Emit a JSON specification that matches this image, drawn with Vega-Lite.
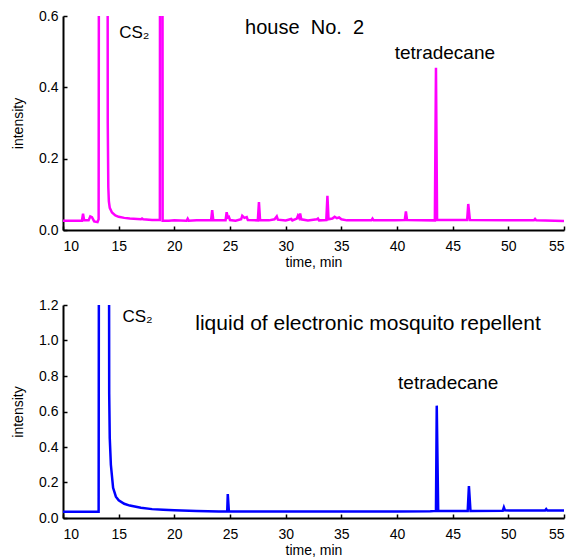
{
  "$schema": "https://vega.github.io/schema/vega-lite/v6.json",
  "padding": {"left": 11, "top": 9, "right": 5, "bottom": 0},
  "spacing": 29,
  "background": "white",
  "config": {
    "view": {"stroke": null},
    "font": "Liberation Sans",
    "axis": {
      "grid": false,
      "domainColor": "black",
      "domainWidth": 2,
      "tickColor": "black",
      "tickWidth": 1.5,
      "tickSize": -4,
      "labelFont": "Liberation Sans",
      "labelFontSize": 14,
      "labelColor": "black",
      "titleFont": "Liberation Sans",
      "titleFontSize": 14,
      "titleFontWeight": "normal",
      "titleColor": "black"
    },
    "axisX": {"labelPadding": 13, "titlePadding": 2},
    "axisY": {"labelPadding": 9, "titlePadding": 13}
  },
  "datasets": {
    "house": [
      {"t": 10.0, "v": 0.026}, {"t": 11.0, "v": 0.026}, {"t": 11.7, "v": 0.026}, {"t": 11.8, "v": 0.046},
      {"t": 11.9, "v": 0.027}, {"t": 12.3, "v": 0.027}, {"t": 12.45, "v": 0.038}, {"t": 12.6, "v": 0.036},
      {"t": 12.8, "v": 0.024}, {"t": 13.1, "v": 0.022}, {"t": 13.2, "v": 0.03}, {"t": 13.3, "v": 3},
      {"t": 13.95, "v": 3}, {"t": 14.02, "v": 0.3}, {"t": 14.07, "v": 0.12}, {"t": 14.12, "v": 0.08},
      {"t": 14.2, "v": 0.062}, {"t": 14.4, "v": 0.049}, {"t": 14.7, "v": 0.041}, {"t": 15.0, "v": 0.037},
      {"t": 15.5, "v": 0.034}, {"t": 16.0, "v": 0.032}, {"t": 17.0, "v": 0.03}, {"t": 17.1, "v": 0.032},
      {"t": 17.2, "v": 0.03}, {"t": 18.0, "v": 0.028}, {"t": 18.7, "v": 0.028}, {"t": 18.75, "v": 3},
      {"t": 18.9, "v": 3}, {"t": 18.95, "v": 0.026}, {"t": 19.5, "v": 0.026}, {"t": 20.0, "v": 0.027},
      {"t": 21.1, "v": 0.026}, {"t": 21.2, "v": 0.032}, {"t": 21.3, "v": 0.026}, {"t": 22.0, "v": 0.027},
      {"t": 23.3, "v": 0.027}, {"t": 23.4, "v": 0.056}, {"t": 23.5, "v": 0.027}, {"t": 24.6, "v": 0.027},
      {"t": 24.7, "v": 0.05}, {"t": 24.8, "v": 0.035}, {"t": 24.9, "v": 0.037}, {"t": 25.0, "v": 0.028},
      {"t": 25.5, "v": 0.026}, {"t": 26.0, "v": 0.03}, {"t": 26.1, "v": 0.04}, {"t": 26.3, "v": 0.034},
      {"t": 26.5, "v": 0.036}, {"t": 26.6, "v": 0.028}, {"t": 27.5, "v": 0.027}, {"t": 27.6, "v": 0.078},
      {"t": 27.7, "v": 0.028}, {"t": 28.5, "v": 0.027}, {"t": 29.0, "v": 0.03}, {"t": 29.2, "v": 0.038},
      {"t": 29.3, "v": 0.029}, {"t": 30.0, "v": 0.027}, {"t": 30.5, "v": 0.031}, {"t": 30.6, "v": 0.027},
      {"t": 31.0, "v": 0.032}, {"t": 31.1, "v": 0.04}, {"t": 31.2, "v": 0.034}, {"t": 31.3, "v": 0.046},
      {"t": 31.4, "v": 0.03}, {"t": 32.0, "v": 0.027}, {"t": 32.8, "v": 0.03}, {"t": 32.9, "v": 0.032},
      {"t": 33.0, "v": 0.027}, {"t": 33.65, "v": 0.028}, {"t": 33.75, "v": 0.096}, {"t": 33.85, "v": 0.03},
      {"t": 34.2, "v": 0.032}, {"t": 34.4, "v": 0.037}, {"t": 34.6, "v": 0.033}, {"t": 34.8, "v": 0.035},
      {"t": 35.0, "v": 0.03}, {"t": 35.5, "v": 0.027}, {"t": 37.7, "v": 0.027}, {"t": 37.8, "v": 0.032},
      {"t": 37.9, "v": 0.027}, {"t": 39.8, "v": 0.027}, {"t": 40.7, "v": 0.028}, {"t": 40.8, "v": 0.052},
      {"t": 40.9, "v": 0.028}, {"t": 43.4, "v": 0.027}, {"t": 43.5, "v": 0.455}, {"t": 43.6, "v": 0.028},
      {"t": 46.3, "v": 0.028}, {"t": 46.4, "v": 0.073}, {"t": 46.55, "v": 0.028}, {"t": 50.0, "v": 0.027},
      {"t": 52.3, "v": 0.027}, {"t": 52.4, "v": 0.031}, {"t": 52.5, "v": 0.027}, {"t": 55.0, "v": 0.025}
    ],
    "liquid": [
      {"t": 10.0, "v": 0.035}, {"t": 13.2, "v": 0.035}, {"t": 13.25, "v": 3}, {"t": 14.1, "v": 3},
      {"t": 14.15, "v": 0.7}, {"t": 14.2, "v": 0.45}, {"t": 14.3, "v": 0.3}, {"t": 14.5, "v": 0.17},
      {"t": 14.75, "v": 0.12}, {"t": 15.0, "v": 0.1}, {"t": 15.5, "v": 0.08}, {"t": 16.0, "v": 0.07},
      {"t": 17.0, "v": 0.058}, {"t": 18.0, "v": 0.05}, {"t": 19.0, "v": 0.046}, {"t": 20.0, "v": 0.043},
      {"t": 22.0, "v": 0.039}, {"t": 24.0, "v": 0.037}, {"t": 24.75, "v": 0.037}, {"t": 24.8, "v": 0.135},
      {"t": 24.9, "v": 0.038}, {"t": 27.0, "v": 0.036}, {"t": 30.0, "v": 0.036}, {"t": 35.0, "v": 0.036},
      {"t": 40.0, "v": 0.037}, {"t": 43.0, "v": 0.038}, {"t": 43.5, "v": 0.04}, {"t": 43.57, "v": 0.633},
      {"t": 43.7, "v": 0.04}, {"t": 46.35, "v": 0.04}, {"t": 46.46, "v": 0.18}, {"t": 46.6, "v": 0.04},
      {"t": 49.5, "v": 0.041}, {"t": 49.6, "v": 0.06}, {"t": 49.7, "v": 0.043}, {"t": 53.3, "v": 0.042},
      {"t": 53.4, "v": 0.05}, {"t": 53.5, "v": 0.042}, {"t": 55.0, "v": 0.042}
    ]
  },
  "vconcat": [
    {
      "width": 501,
      "height": 214,
      "encoding": {
        "x": {"field": "t", "type": "quantitative", "scale": {"domain": [10, 55], "nice": false},
              "axis": {"values": [10, 15, 20, 25, 30, 35, 40, 45, 50, 55], "title": "time, min"}},
        "y": {"field": "v", "type": "quantitative", "scale": {"domain": [0, 0.6], "nice": false},
              "axis": {"values": [0, 0.2, 0.4, 0.6], "format": ".1f", "title": "intensity"}}
      },
      "layer": [
        {
          "data": {"name": "house"},
          "mark": {"type": "line", "color": "#FF00FF", "strokeWidth": 2.5, "clip": true}
        },
        {
          "data": {"values": [{"t": 16.4, "v": 0.553, "label": "CS₂"}]},
          "mark": {"type": "text", "font": "Liberation Sans", "fontSize": 17, "color": "black", "align": "center", "baseline": "middle"},
          "encoding": {"text": {"field": "label"}}
        },
        {
          "data": {"values": [{"t": 44.3, "v": 0.497, "label": "tetradecane"}]},
          "mark": {"type": "text", "font": "Liberation Sans", "fontSize": 19, "color": "black", "align": "center", "baseline": "middle"},
          "encoding": {"text": {"field": "label"}}
        },
        {
          "data": {"values": [{"t": 31.7, "v": 0.565, "label": "house\u00a0\u00a0No.\u00a0\u00a02"}]},
          "mark": {"type": "text", "font": "Liberation Sans", "fontSize": 20, "color": "black", "align": "center", "baseline": "middle"},
          "encoding": {"text": {"field": "label"}}
        }
      ]
    },
    {
      "width": 501,
      "height": 213,
      "encoding": {
        "x": {"field": "t", "type": "quantitative", "scale": {"domain": [10, 55], "nice": false},
              "axis": {"values": [10, 15, 20, 25, 30, 35, 40, 45, 50, 55], "title": "time, min"}},
        "y": {"field": "v", "type": "quantitative", "scale": {"domain": [0, 1.2], "nice": false},
              "axis": {"values": [0, 0.2, 0.4, 0.6, 0.8, 1.0, 1.2], "format": ".1f", "title": "intensity"}}
      },
      "layer": [
        {
          "data": {"name": "liquid"},
          "mark": {"type": "line", "color": "#0000FF", "strokeWidth": 2.5, "clip": true}
        },
        {
          "data": {"values": [{"t": 16.7, "v": 1.13, "label": "CS₂"}]},
          "mark": {"type": "text", "font": "Liberation Sans", "fontSize": 17, "color": "black", "align": "center", "baseline": "middle"},
          "encoding": {"text": {"field": "label"}}
        },
        {
          "data": {"values": [{"t": 44.6, "v": 0.76, "label": "tetradecane"}]},
          "mark": {"type": "text", "font": "Liberation Sans", "fontSize": 19, "color": "black", "align": "center", "baseline": "middle"},
          "encoding": {"text": {"field": "label"}}
        },
        {
          "data": {"values": [{"t": 37.4, "v": 1.093, "label": "liquid of electronic mosquito repellent"}]},
          "mark": {"type": "text", "font": "Liberation Sans", "fontSize": 21, "color": "black", "align": "center", "baseline": "middle"},
          "encoding": {"text": {"field": "label"}}
        }
      ]
    }
  ]
}
